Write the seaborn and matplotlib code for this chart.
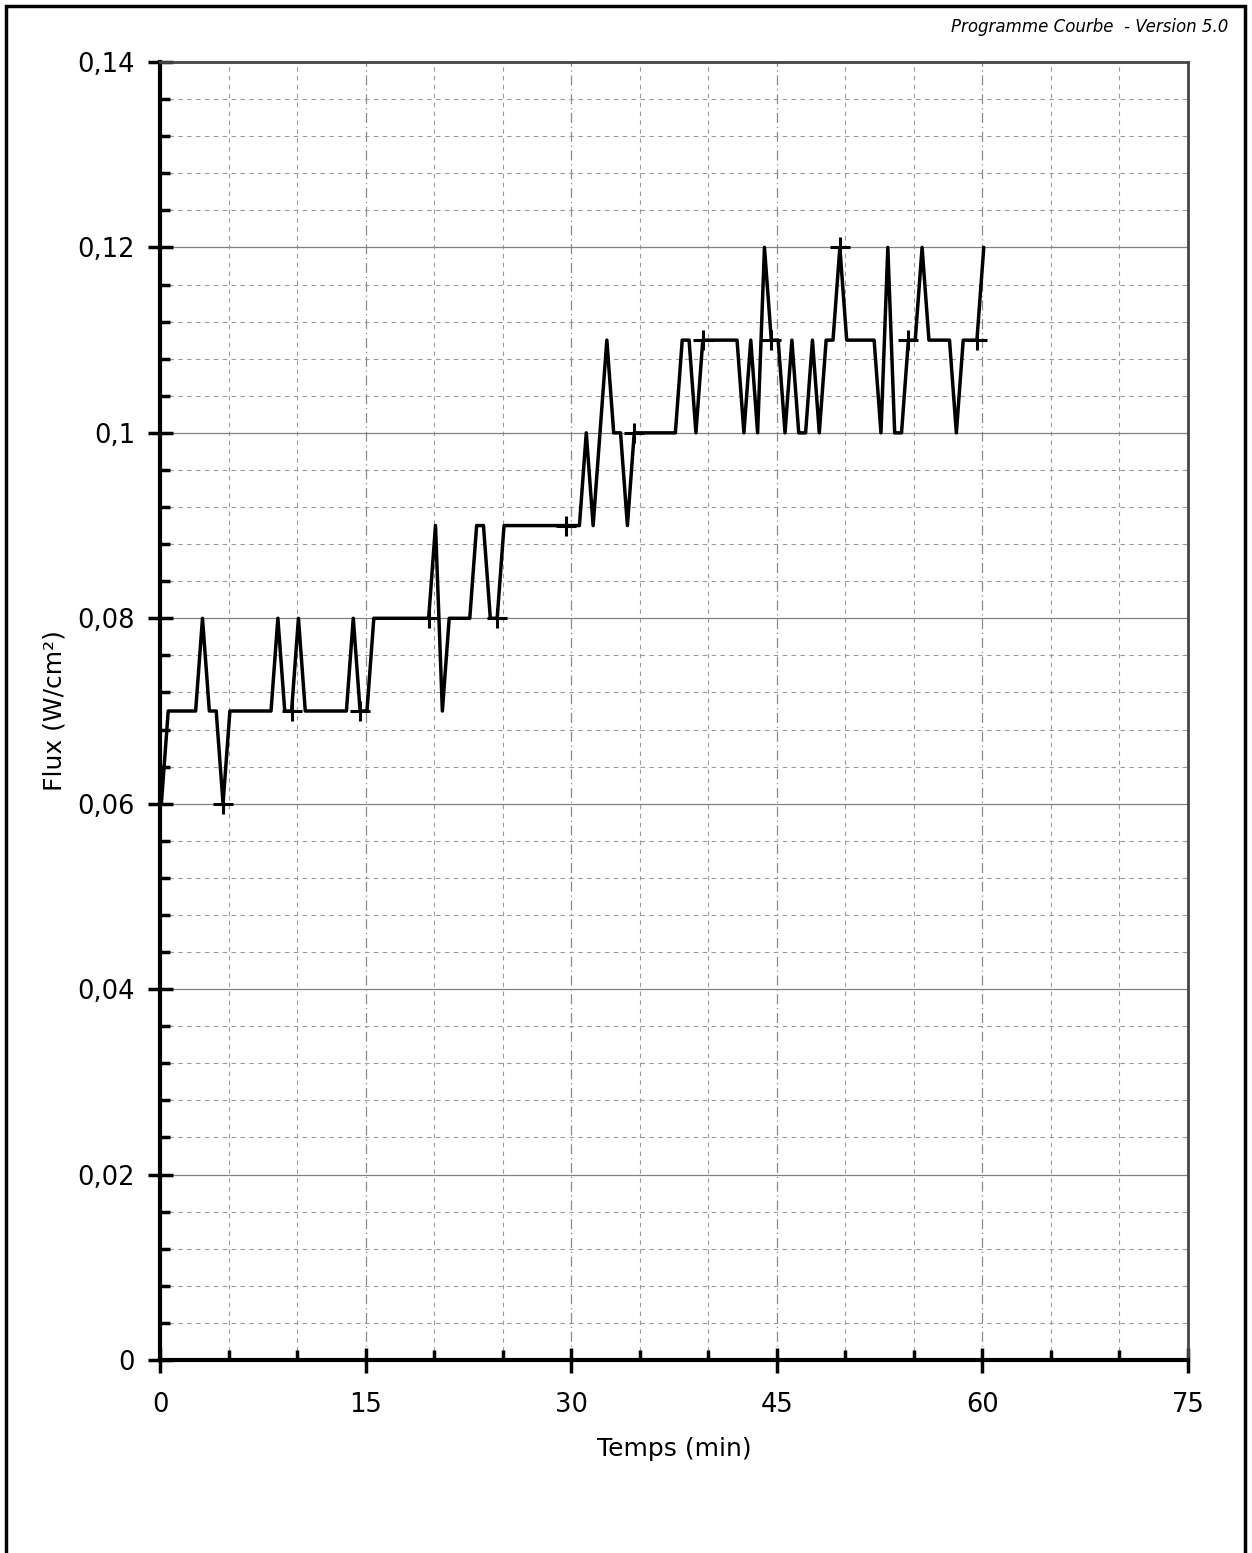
import numpy as np
import pandas as pd
import seaborn as sns
import matplotlib
matplotlib.use("Agg")
import matplotlib.pyplot as plt
from matplotlib.ticker import FixedLocator, FixedFormatter, MultipleLocator
from matplotlib.patches import Rectangle

# ==========================================
# données (pas de 0,5 min)
# ==========================================
temps = [
    0.1, 0.6, 1.1, 1.6, 2.1, 2.6, 3.1, 3.6, 4.1, 4.6,
    5.1, 5.6, 6.1, 6.6, 7.1, 7.6, 8.1, 8.6, 9.1, 9.6,
    10.1, 10.6, 11.1, 11.6, 12.1, 12.6, 13.1, 13.6, 14.1, 14.6,
    15.1, 15.6, 16.1, 16.6, 17.1, 17.6, 18.1, 18.6, 19.1, 19.6,
    20.1, 20.6, 21.1, 21.6, 22.1, 22.6, 23.1, 23.6, 24.1, 24.6,
    25.1, 25.6, 26.1, 26.6, 27.1, 27.6, 28.1, 28.6, 29.1, 29.6,
    30.1, 30.6, 31.1, 31.6, 32.1, 32.6, 33.1, 33.6, 34.1, 34.6,
    35.1, 35.6, 36.1, 36.6, 37.1, 37.6, 38.1, 38.6, 39.1, 39.6,
    40.1, 40.6, 41.1, 41.6, 42.1, 42.6, 43.1, 43.6, 44.1, 44.6,
    45.1, 45.6, 46.1, 46.6, 47.1, 47.6, 48.1, 48.6, 49.1, 49.6,
    50.1, 50.6, 51.1, 51.6, 52.1, 52.6, 53.1, 53.6, 54.1, 54.6,
    55.1, 55.6, 56.1, 56.6, 57.1, 57.6, 58.1, 58.6, 59.1, 59.6,
    60.1,
]
flux = [
    0.06, 0.07, 0.07, 0.07, 0.07, 0.07, 0.08, 0.07, 0.07, 0.06,
    0.07, 0.07, 0.07, 0.07, 0.07, 0.07, 0.07, 0.08, 0.07, 0.07,
    0.08, 0.07, 0.07, 0.07, 0.07, 0.07, 0.07, 0.07, 0.08, 0.07,
    0.07, 0.08, 0.08, 0.08, 0.08, 0.08, 0.08, 0.08, 0.08, 0.08,
    0.09, 0.07, 0.08, 0.08, 0.08, 0.08, 0.09, 0.09, 0.08, 0.08,
    0.09, 0.09, 0.09, 0.09, 0.09, 0.09, 0.09, 0.09, 0.09, 0.09,
    0.09, 0.09, 0.10, 0.09, 0.10, 0.11, 0.10, 0.10, 0.09, 0.10,
    0.10, 0.10, 0.10, 0.10, 0.10, 0.10, 0.11, 0.11, 0.10, 0.11,
    0.11, 0.11, 0.11, 0.11, 0.11, 0.10, 0.11, 0.10, 0.12, 0.11,
    0.11, 0.10, 0.11, 0.10, 0.10, 0.11, 0.10, 0.11, 0.11, 0.12,
    0.11, 0.11, 0.11, 0.11, 0.11, 0.10, 0.12, 0.10, 0.10, 0.11,
    0.11, 0.12, 0.11, 0.11, 0.11, 0.11, 0.10, 0.11, 0.11, 0.11,
    0.12,
]

x_ticks = [0, 15, 30, 45, 60, 75]
y_ticks = [0, 0.02, 0.04, 0.06, 0.08, 0.1, 0.12, 0.14]
y_labels = ["0", "0,02", "0,04", "0,06", "0,08", "0,1", "0,12", "0,14"]

df = pd.DataFrame({"Temps": temps, "Flux": flux})

sns.set_style("white")
plt.rcParams["font.family"] = ["DejaVu Sans"]
plt.rcParams["text.color"] = "black"
plt.rcParams["axes.labelcolor"] = "black"
plt.rcParams["xtick.color"] = "black"
plt.rcParams["ytick.color"] = "black"

fig = plt.figure(figsize=(12.52, 15.53), dpi=100)
ax = fig.add_axes([160 / 1252, 193 / 1553, 1028 / 1252, 1298 / 1553])

# grille : pointillés toutes les 5 min / 0,004, trait fin aux graduations principales
for xv in np.arange(5, 75, 5):
    if xv % 15 == 0:
        ax.axvline(xv, color="#8a8a8a", lw=0.9, ls=(0, (8, 3, 1, 3)), zorder=0)
    else:
        ax.axvline(xv, color="#9a9a9a", lw=0.8, ls=(0, (4, 4)), zorder=0)
for yv in np.arange(0.004, 0.14, 0.004):
    if abs(yv / 0.02 - round(yv / 0.02)) < 1e-6:
        ax.axhline(yv, color="#808080", lw=0.9, ls="-", zorder=0)
    else:
        ax.axhline(yv, color="#9a9a9a", lw=0.8, ls=(0, (4, 4)), zorder=0)

sns.lineplot(data=df, x="Temps", y="Flux", ax=ax, color="black", lw=2.5,
             estimator=None, sort=False, marker="+", markersize=14,
             markeredgewidth=2.2, markeredgecolor="black",
             markevery=slice(9, None, 10))

ax.set_xlim(0, 75)
ax.set_ylim(0, 0.14)
ax.xaxis.set_major_locator(FixedLocator(x_ticks))
ax.yaxis.set_major_locator(FixedLocator(y_ticks))
ax.yaxis.set_major_formatter(FixedFormatter(y_labels))
ax.xaxis.set_minor_locator(MultipleLocator(5))
ax.yaxis.set_minor_locator(MultipleLocator(0.004))

ax.tick_params(axis="both", which="major", direction="inout", length=18,
               width=2.5, labelsize=18.5, color="black")
ax.tick_params(axis="x", which="major", pad=14)
ax.tick_params(axis="y", which="major", pad=9)
ax.tick_params(axis="both", which="minor", direction="in", length=7,
               width=2.5, color="black")
ax.tick_params(which="both", bottom=True, left=True, top=False, right=False)

for side in ["left", "bottom"]:
    ax.spines[side].set_linewidth(3)
    ax.spines[side].set_color("black")
for side in ["top", "right"]:
    ax.spines[side].set_linewidth(2)
    ax.spines[side].set_color("#444444")

ax.set_xlabel("Temps (min)", fontsize=18, labelpad=14)
ax.set_ylabel("Flux (W/cm²)", fontsize=18, labelpad=8)

# cadre de la page et mention du programme
fig.patches.append(Rectangle((6 / 1252, -0.01), 1239 / 1252, 1 - 6 / 1553 + 0.01,
                             transform=fig.transFigure, fill=False,
                             lw=2.5, ec="black"))
fig.text(1228 / 1252, 1 - 27 / 1553, "Programme Courbe  - Version 5.0",
         ha="right", va="center", fontsize=12, style="italic")

fig.savefig("out.png", dpi=100)
